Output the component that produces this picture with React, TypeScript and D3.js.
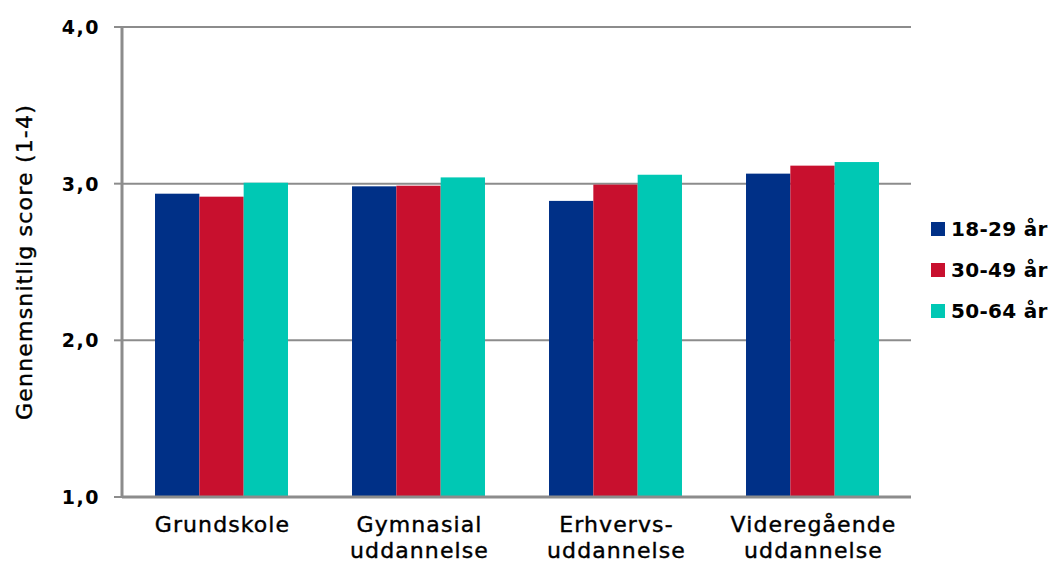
import React from "react";
import * as d3 from "d3";

// Average score by education level and age group
const categories = [
  ["Grundskole"],
  ["Gymnasial", "uddannelse"],
  ["Erhvervs-", "uddannelse"],
  ["Videregående", "uddannelse"],
];
const seriesNames = ["18-29 år", "30-49 år", "50-64 år"];
const seriesColors = ["#003087", "#C8102E", "#00C8B4"];
const age18to29 = [2.936, 2.983, 2.89, 3.064];
const age30to49 = [2.917, 2.987, 2.994, 3.115];
const age50to64 = [3.006, 3.04, 3.057, 3.138];
const seriesValues = [age18to29, age30to49, age50to64];
const yTicks = [1, 2, 3, 4];
const yTitle = "Gennemsnitlig score (1-4)";

const W = 1059;
const H = 563;
const plot = { left: 123, right: 911, top: 27, bottom: 497 };

export default function App() {
  const catKeys = categories.map((c) => c.join(" "));
  const x0 = d3
    .scaleBand<string>()
    .domain(catKeys)
    .range([plot.left, plot.right])
    .paddingInner(0.325)
    .paddingOuter(0.1625);
  const x1 = d3
    .scaleBand<string>()
    .domain(seriesNames)
    .range([0, x0.bandwidth()])
    .padding(0);
  const y = d3.scaleLinear().domain([1, 4]).range([plot.bottom, plot.top]);
  const fmt = (v: number) => d3.format(".1f")(v).replace(".", ",");

  const font = "'DejaVu Sans', Verdana, sans-serif";

  return (
    <svg
      width={W}
      height={H}
      viewBox={`0 0 ${W} ${H}`}
      style={{ position: "absolute", left: 0, top: 0, background: "#fff" }}
      fontFamily={font}
    >
      {/* gridlines */}
      {yTicks
        .filter((t) => t > 1)
        .map((t) => (
          <line
            key={"g" + t}
            x1={plot.left}
            x2={plot.right}
            y1={y(t)}
            y2={y(t)}
            stroke="#8C8C8C"
            strokeWidth={2}
          />
        ))}

      {/* bars */}
      {catKeys.map((c, ci) => (
        <g key={c} transform={`translate(${x0(c)},0)`}>
          {seriesNames.map((s, si) => {
            const v = seriesValues[si][ci];
            return (
              <rect
                key={s}
                x={x1(s)}
                y={y(v)}
                width={x1.bandwidth()}
                height={y(1) - y(v)}
                fill={seriesColors[si]}
              />
            );
          })}
        </g>
      ))}

      {/* y axis */}
      <line
        x1={plot.left - 1}
        x2={plot.left - 1}
        y1={plot.top}
        y2={plot.bottom + 1}
        stroke="#8C8C8C"
        strokeWidth={3}
      />
      {/* x axis */}
      <line
        x1={plot.left - 1}
        x2={plot.right}
        y1={plot.bottom}
        y2={plot.bottom}
        stroke="#8C8C8C"
        strokeWidth={3}
      />
      {yTicks.map((t) => (
        <g key={"t" + t}>
          <line
            x1={plot.left - 9}
            x2={plot.left}
            y1={y(t)}
            y2={y(t)}
            stroke="#8C8C8C"
            strokeWidth={2}
          />
          <text
            x={100}
            y={y(t)}
            dy="0.36em"
            textAnchor="end"
            fontSize={19}
            fontWeight="bold"
            letterSpacing={1.5}
            fill="#000"
          >
            {fmt(t)}
          </text>
        </g>
      ))}

      {/* y title */}
      <text
        transform={`translate(32,${(plot.top + plot.bottom) / 2}) rotate(-90)`}
        textAnchor="middle"
        fontSize={22}
        letterSpacing={1.2}
        fill="#000"
        stroke="#000"
        strokeWidth={0.4}
      >
        {yTitle}
      </text>

      {/* category labels */}
      {categories.map((lines, ci) => {
        const cx = (x0(catKeys[ci]) as number) + x0.bandwidth() / 2;
        return lines.map((ln, li) => (
          <text
            key={ci + "-" + li}
            x={cx + 1}
            y={532 + li * 26}
            textAnchor="middle"
            fontSize={22}
            letterSpacing={1.1}
            fill="#000"
            stroke="#000"
            strokeWidth={0.4}
          >
            {ln}
          </text>
        ));
      })}

      {/* legend */}
      {seriesNames.map((s, si) => (
        <g key={"l" + s} transform={`translate(931,${229 + si * 41})`}>
          <rect x={0} y={-7} width={14} height={14} fill={seriesColors[si]} />
          <text x={20} y={0} dy="0.36em" fontSize={20} fontWeight="bold" letterSpacing={0.3} fill="#000">
            {s}
          </text>
        </g>
      ))}
    </svg>
  );
}
